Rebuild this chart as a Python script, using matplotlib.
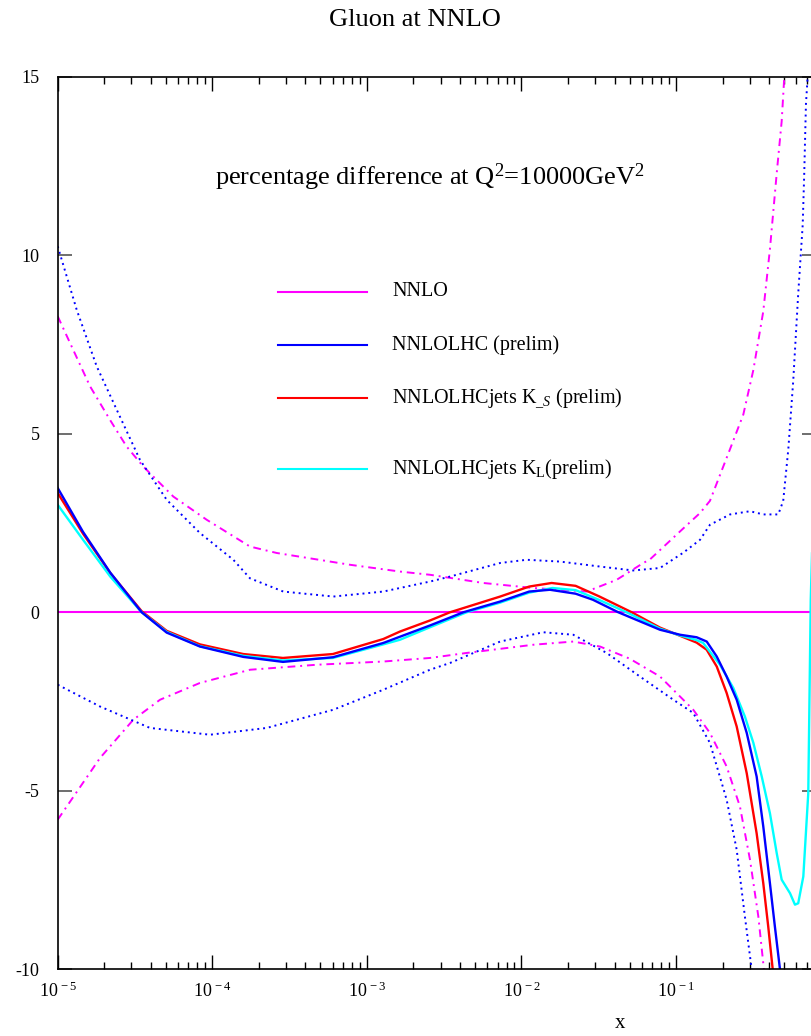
import numpy as np
import matplotlib
matplotlib.use("Agg")
import matplotlib.pyplot as plt
from matplotlib.lines import Line2D
from matplotlib.ticker import FixedLocator, FuncFormatter, LogLocator, NullFormatter

# Données (log10(x), écart en %)
nnlo_lx = [-5.0, -0.1]
nnlo_y = [0.0, 0.0]

nnlo_up_lx = [-5.0, -4.92, -4.791, -4.662, -4.554, -4.446, -4.252, -4.036, -3.756, -3.583,
              -3.109, -2.786, -2.592, -2.247, -1.924, -1.578, -1.384, -1.212, -1.169, -0.953,
              -0.845, -0.781, -0.651, -0.565, -0.5, -0.436, -0.393, -0.349, -0.317, -0.3, -0.29]
nnlo_up_y = [8.29, 7.54, 6.33, 5.39, 4.64, 4.08, 3.24, 2.59, 1.84, 1.66,
             1.33, 1.14, 1.05, 0.82, 0.68, 0.58, 0.91, 1.38, 1.48, 2.35,
             2.78, 3.12, 4.57, 5.54, 6.79, 8.43, 10.17, 12.3, 13.75, 15.0, 16.0]

nnlo_lo_lx = [-5.0, -4.726, -4.511, -4.338, -4.08, -3.756, -3.325, -2.894, -2.592, -2.355,
              -1.924, -1.665, -1.492, -1.3, -1.104, -0.889, -0.781, -0.673, -0.587, -0.522,
              -0.468, -0.432, -0.41]
nnlo_lo_y = [-5.81, -4.08, -3.01, -2.45, -1.98, -1.61, -1.47, -1.38, -1.28, -1.14,
             -0.91, -0.82, -0.96, -1.3, -1.8, -2.73, -3.38, -4.32, -5.44, -6.93,
             -8.52, -10.0, -11.0]

lhc_lx = [-5.0, -4.836, -4.66, -4.457, -4.295, -4.08, -3.8, -3.543, -3.22, -2.894,
          -2.592, -2.376, -2.138, -1.95, -1.816, -1.65, -1.538, -1.374, -1.104, -0.974,
          -0.867, -0.802, -0.737, -0.673, -0.608, -0.543, -0.479, -0.436, -0.393, -0.361,
          -0.328, -0.3]
lhc_y = [3.48, 2.25, 1.11, 0.0, -0.57, -0.96, -1.25, -1.39, -1.26, -0.86,
         -0.37, 0.0, 0.3, 0.58, 0.63, 0.52, 0.35, 0.0, -0.49, -0.63,
         -0.7, -0.82, -1.24, -1.8, -2.45, -3.38, -4.6, -6.0, -7.59, -8.8,
         -10.0, -11.5]

lhc_up_lx = [-5.0, -4.877, -4.748, -4.618, -4.468, -4.295, -4.08, -3.864, -3.756, -3.541,
             -3.217, -2.894, -2.592, -2.462, -2.138, -1.967, -1.752, -1.492, -1.277, -1.104,
             -0.953, -0.845, -0.781, -0.651, -0.522, -0.436, -0.339, -0.307, -0.274, -0.242,
             -0.21, -0.181, -0.171, -0.16, -0.149, -0.14]
lhc_up_y = [10.25, 8.47, 6.89, 5.67, 4.27, 3.15, 2.22, 1.47, 0.95, 0.58,
            0.44, 0.58, 0.86, 1.0, 1.38, 1.47, 1.42, 1.28, 1.17, 1.24,
            1.67, 2.03, 2.45, 2.74, 2.83, 2.74, 2.74, 3.12, 4.57, 6.5,
            8.92, 10.85, 12.3, 14.23, 15.0, 16.0]

lhc_lo_lx = [-5.0, -4.726, -4.403, -4.015, -3.648, -3.217, -2.894, -2.592, -2.462, -2.138,
             -1.859, -1.665, -1.449, -1.234, -1.018, -0.889, -0.781, -0.673, -0.608, -0.555,
             -0.511, -0.49]
lhc_lo_y = [-2.03, -2.64, -3.24, -3.43, -3.24, -2.73, -2.17, -1.61, -1.42, -0.82,
            -0.56, -0.63, -1.14, -1.8, -2.45, -2.82, -3.66, -5.25, -6.65, -8.52,
            -10.0, -11.0]

jets_s_lx = [-5.0, -4.836, -4.66, -4.457, -4.295, -4.08, -3.8, -3.543, -3.22, -2.894,
             -2.786, -2.592, -2.462, -2.138, -1.95, -1.805, -1.65, -1.5, -1.287, -1.104,
             -0.974, -0.867, -0.802, -0.737, -0.673, -0.608, -0.543, -0.479, -0.436, -0.404,
             -0.375, -0.36]
jets_s_y = [3.34, 2.2, 1.1, 0.03, -0.52, -0.9, -1.17, -1.28, -1.17, -0.75,
            -0.54, -0.23, 0.0, 0.44, 0.72, 0.82, 0.74, 0.45, 0.0, -0.43,
            -0.66, -0.85, -1.05, -1.52, -2.26, -3.2, -4.51, -6.19, -7.59, -8.8,
            -10.0, -10.8]

jets_l_lx = [-5.0, -4.836, -4.66, -4.457, -4.295, -4.08, -3.8, -3.543, -3.22, -2.894,
             -2.786, -2.592, -2.355, -2.138, -1.95, -1.8, -1.65, -1.5, -1.32, -1.104,
             -0.974, -0.867, -0.825, -0.716, -0.63, -0.555, -0.5, -0.446, -0.393, -0.349,
             -0.317, -0.263, -0.231, -0.21, -0.177, -0.145, -0.129, -0.121, -0.11]
jets_l_y = [3.01, 2.03, 1.0, 0.0, -0.55, -0.95, -1.22, -1.35, -1.28, -0.9,
            -0.77, -0.42, 0.0, 0.27, 0.55, 0.68, 0.62, 0.35, 0.0, -0.46,
            -0.65, -0.78, -0.86, -1.47, -2.12, -2.92, -3.66, -4.6, -5.63, -6.75,
            -7.49, -7.87, -8.19, -8.15, -7.4, -5.07, 0.35, 1.6, 5.0]

labels = ["NNLO", "NNLOLHC (prelim)", r"NNLOLHCjets K$_{\_S}$ (prelim)",
          r"NNLOLHCjets K$_{\mathrm{L}}$(prelim)"]
colors = ["#ff00ff", "#0000ff", "#ff0000", "#00ffff"]

plt.rcParams["font.family"] = ["Liberation Serif", "DejaVu Serif"]
plt.rcParams["mathtext.fontset"] = "custom"
plt.rcParams["mathtext.rm"] = "Liberation Serif"
plt.rcParams["mathtext.it"] = "Liberation Serif:italic"
plt.rcParams["mathtext.bf"] = "Liberation Serif:bold"
plt.rcParams["axes.unicode_minus"] = False

W, H = 812, 1036
fig = plt.figure(figsize=(W / 100, H / 100), dpi=100)
ax = fig.add_axes([57.7 / W, 66.7 / H, 758 / W, 892.6 / H])

def X(lx):
    return 10 ** np.array(lx)

dashdot = (0, (4, 2.5, 1, 2.5))
dotted = (0, (1, 2))

ax.plot(X(nnlo_up_lx), nnlo_up_y, color=colors[0], lw=1.4, ls=dashdot)
ax.plot(X(nnlo_lo_lx), nnlo_lo_y, color=colors[0], lw=1.4, ls=dashdot)
ax.plot(X(lhc_up_lx), lhc_up_y, color=colors[1], lw=1.4, ls=dotted)
ax.plot(X(lhc_lo_lx), lhc_lo_y, color=colors[1], lw=1.4, ls=dotted)
ax.plot(X(nnlo_lx), nnlo_y, color=colors[0], lw=1.5)
ax.plot(X(jets_s_lx), jets_s_y, color=colors[2], lw=1.7)
ax.plot(X(jets_l_lx), jets_l_y, color=colors[3], lw=1.7)
ax.plot(X(lhc_lx), lhc_y, color=colors[1], lw=1.7)

ax.set_xscale("log")
ax.set_xlim(1e-5, 0.8)
ax.set_ylim(-10, 15)
ax.xaxis.set_major_locator(LogLocator(base=10, numticks=10))
ax.xaxis.set_minor_locator(LogLocator(base=10, subs=np.arange(2, 10), numticks=50))
ax.xaxis.set_major_formatter(FuncFormatter(lambda v, p: r"$\mathrm{10}^{\,%d}$" % round(np.log10(v))))
ax.xaxis.set_minor_formatter(NullFormatter())
ax.yaxis.set_major_locator(FixedLocator([-10, -5, 0, 5, 10, 15]))
ax.tick_params(which="both", direction="in", top=True, right=True, labelsize=13)
ax.tick_params(axis="x", which="major", length=10, width=1, pad=9)
ax.tick_params(axis="x", which="minor", length=5, width=1)
ax.tick_params(axis="y", which="major", length=10, width=1.2, color="#555555", pad=13)
for s in ax.spines.values():
    s.set_linewidth(1.2)

# légende faite à la main
for lab, col, ypx in zip(labels, colors, [292, 345, 398, 469]):
    fig.add_artist(Line2D([278 / W, 367 / W], [1 - ypx / H, 1 - ypx / H], color=col, lw=1.5))
    fig.text(392 / W, 1 - ypx / H, lab, ha="left", va="center", fontsize=14.5)

fig.text(415 / W, 1 - 20 / H, "Gluon at NNLO", ha="center", va="center", fontsize=19)
fig.text(430 / W, 1 - 185 / H, r"percentage difference at Q$^{2}$=10000GeV$^{2}$",
         ha="center", va="baseline", fontsize=19)
fig.text(620 / W, 1 - 1024 / H, "x", ha="center", va="center", fontsize=15)

fig.savefig("out.png", dpi=100)
